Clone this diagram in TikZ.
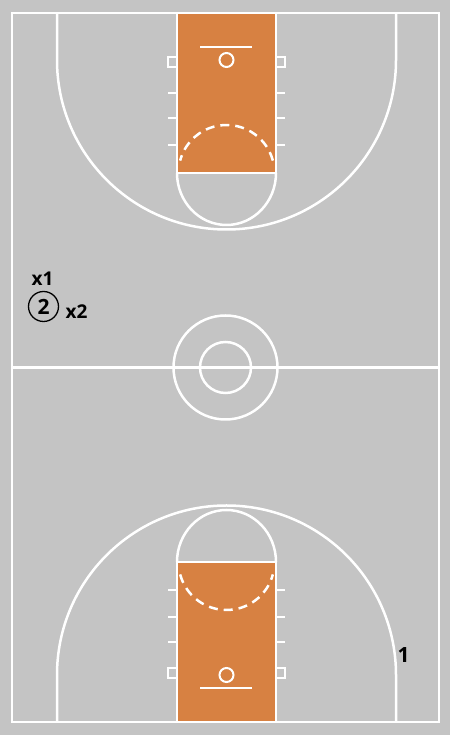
\documentclass[tikz,border=0pt]{standalone}
\usepackage{fontspec}
\setmainfont{Open Sans}
\usetikzlibrary{positioning}
\definecolor{floor}{RGB}{196,196,196}
\definecolor{paint}{RGB}{215,129,66}
\tikzset{court/.style={white,line width=2.5pt},
  hash/.style={white,line width=2pt},
  defender/.style={font=\bfseries\fontsize{19}{19}\selectfont,inner sep=0pt},
  attacker/.style={font=\bfseries\fontsize{21}{21}\selectfont,inner sep=0pt}}

\begin{document}
\begin{tikzpicture}[x=1pt,y=1pt]
\fill[floor] (0,0) rectangle (450,735);
\useasboundingbox (0,0) rectangle (450,735);

% paint
\fill[paint] (177,562) rectangle (276,722);
\fill[paint] (177,13) rectangle (276,173);

% boundary and half line
\draw[court] (12,13) rectangle (439,722);
\draw[court] (12,367.5) -- (439,367.5);
\draw[court] (225.5,367.5) circle (52);
\draw[court] (225.5,367.5) circle (25.5);

% upper half
\draw[court] (177,562) rectangle (276,722);
\draw[court] (177,562) arc[start angle=180,end angle=360,x radius=49.5,y radius=52];
\draw[court,dashed,dash pattern=on 9pt off 6pt] (226.5,562) ++(15:48) arc[start angle=15,end angle=165,radius=48];
\draw[court] (57,722) -- (57,675) arc[start angle=180,end angle=360,radius=169.5] -- (396,722);
\draw[court] (200,688) -- (252,688);
\draw[court,line width=2pt] (226.5,675) circle (7);
\draw[hash] (168,668) rectangle (177,678);
\draw[hash] (276,668) rectangle (285,678);
\foreach \y in {642,617,590}{
  \draw[hash] (168,\y) -- (177,\y);
  \draw[hash] (276,\y) -- (285,\y);
}

% lower half
\draw[court] (177,13) rectangle (276,173);
\draw[court] (276,173) arc[start angle=0,end angle=180,x radius=49.5,y radius=52];
\draw[court,dashed,dash pattern=on 9pt off 6pt] (226.5,173) ++(195:48) arc[start angle=195,end angle=345,radius=48];
\draw[court] (57,13) -- (57,60) arc[start angle=180,end angle=0,radius=169.5] -- (396,13);
\draw[court] (200,47) -- (252,47);
\draw[court,line width=2pt] (226.5,60) circle (7);
\draw[hash] (168,57) rectangle (177,67);
\draw[hash] (276,57) rectangle (285,67);
\foreach \y in {93,118,145}{
  \draw[hash] (168,\y) -- (177,\y);
  \draw[hash] (276,\y) -- (285,\y);
}

% players
\node[defender] (X1) at (42.5,456) {x1};
\node[attacker,draw,circle,line width=1.3pt,minimum size=30pt] (P2) at (43.5,428.5) {2};
\node[defender] (X2) at (76.5,423) {x2};
\node[attacker] (P1) at (403.5,79.5) {1};
\end{tikzpicture}
\end{document}
